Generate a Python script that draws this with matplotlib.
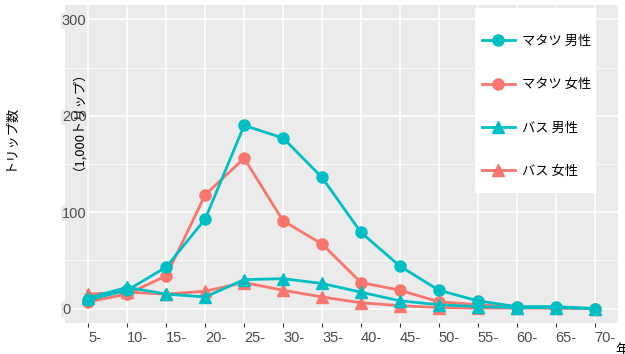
import numpy as np
import matplotlib
matplotlib.use("Agg")
import matplotlib.pyplot as plt
from matplotlib.patches import Rectangle

plt.rcParams['font.family'] = ['Liberation Sans', 'Noto Sans CJK JP']

#Data:-------------------------------------------------------------------------

age_groups = ["5-", "10-", "15-", "20-", "25-", "30-", "35-", "40-", "45-",
              "50-", "55-", "60-", "65-", "70-"]
matatu_male = [9, 19, 43, 93, 190, 177, 136, 79, 44, 19, 8, 2, 2, 0]
matatu_female = [7, 15, 34, 118, 156, 91, 67, 27, 19, 7, 4, 1.5, 1, 0]
bus_male = [11, 22, 15, 12, 30, 31, 26, 17, 8, 4, 2, 1, 1, 0]
bus_female = [15, 17, 15, 18, 27, 19, 12, 6, 3, 1, 0.5, 0.5, 0.3, 0]
series_labels = ["マタツ 男性", "マタツ 女性", "バス 男性", "バス 女性"]

teal = "#00BFC4"
salmon = "#F8766D"
jp = ['Noto Sans CJK JP', 'DejaVu Sans']

#Figure:-----------------------------------------------------------------------

fig = plt.figure(figsize=(6.25, 3.54), dpi=100)
ax = fig.add_axes([65/625, 1-323/354, 553/625, 318/354])
ax.set_facecolor("#EBEBEB")

x = np.arange(len(age_groups))
series = [(matatu_male, teal, "o", 8),
          (matatu_female, salmon, "o", 8),
          (bus_male, teal, "^", 9),
          (bus_female, salmon, "^", 9)]
handles = [None]*4
for i in [1, 3, 0, 2]:
    vals, col, mk, ms = series[i]
    h, = ax.plot(x, vals, color=col, marker=mk, markersize=ms, lw=2,
                 label=series_labels[i], zorder=3)
    handles[i] = h

ax.set_xlim(-0.6, len(age_groups)-1+0.6)
ax.set_ylim(-15, 315)
ax.set_xticks(x)
ax.set_xticklabels(age_groups, ha="left")
ax.set_yticks([0, 100, 200, 300])
ax.set_yticks([50, 150, 250], minor=True)
ax.grid(True, which="major", color="white", lw=1.1, zorder=0)
ax.grid(True, which="minor", axis="y", color="white", lw=0.5, zorder=0)
ax.set_axisbelow(True)
for s in ax.spines.values():
    s.set_visible(False)
ax.tick_params(axis="x", which="major", colors="#333333", labelcolor="#4D4D4D",
               labelsize=10.5, length=3, width=0.8, pad=3)
ax.tick_params(axis="y", which="major", labelcolor="#4D4D4D", labelsize=10.5,
               length=0, pad=2.2)
ax.tick_params(axis="y", which="minor", length=0)
for t in ax.get_yticklabels():
    t.set_ha("left")
    t.set_bbox(dict(facecolor="#EBEBEB", edgecolor="none", pad=0.5))

# legend box
box = Rectangle((475/625, 1-193/354), 121/625, 185/354, transform=fig.transFigure,
                facecolor="white", edgecolor="none", zorder=4)
ax.add_patch(box)
box.set_clip_on(False)
leg = ax.legend(handles=handles, loc="upper left", bbox_to_anchor=(482/625, 1-35/354),
                bbox_transform=fig.transFigure, frameon=False,
                prop={"family": jp, "size": 9.5}, handlelength=2.5,
                labelspacing=2.3, borderpad=0, handletextpad=0.55, borderaxespad=0)
leg.set_zorder(5)

fig.text(10/625, 1-137/354, "トリップ数", rotation=90, ha="center", va="center",
         fontsize=9.5, family=jp)
fig.text(72/625, 1-114/354, "（1,000トリップ）", rotation=90, ha="center", va="center",
         fontsize=9.5, family=jp)
fig.text(615/625, 1-350/354, "年齢", ha="left", va="center", fontsize=10, family=jp)

fig.savefig("out.png", dpi=100)
